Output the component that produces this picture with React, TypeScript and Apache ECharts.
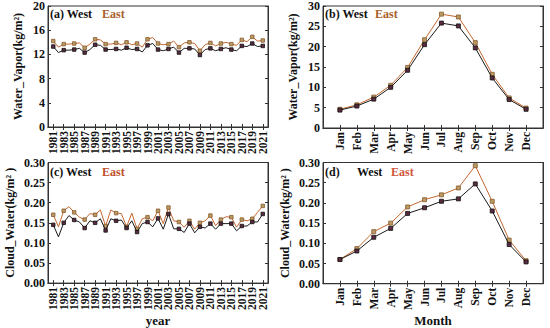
import React, { useEffect, useRef } from 'react';
import * as echarts from 'echarts';

const years = [
  '1981','1982','1983','1984','1985','1986','1987','1988','1989','1990',
  '1991','1992','1993','1994','1995','1996','1997','1998','1999','2000',
  '2001','2002','2003','2004','2005','2006','2007','2008','2009','2010',
  '2011','2012','2013','2014','2015','2016','2017','2018','2019','2020','2021'
];
const months = ['Jan','Feb','Mar','Apr','May','Jun','Jul','Aug','Sep','Oct','Nov','Dec'];

const vaporWestYear = [
  13.3,12.3,12.7,12.7,12.8,13.0,12.3,12.8,13.6,13.5,
  12.8,12.8,12.9,12.7,13.1,12.8,12.9,12.4,13.5,13.8,
  12.8,12.6,12.9,13.2,12.3,13.0,13.0,12.9,11.9,12.8,
  13.0,12.6,12.9,13.1,12.8,12.6,13.4,13.3,13.8,13.3,13.4
];
const vaporEastYear = [
  14.2,13.2,13.7,13.7,13.8,13.9,13.1,13.7,14.5,14.4,
  13.7,13.7,13.9,13.6,14.0,13.6,13.8,13.2,14.5,14.8,
  13.8,13.6,13.7,14.2,13.2,13.9,14.0,13.8,12.6,13.6,
  13.9,13.4,13.8,14.0,13.7,13.5,14.4,14.1,14.9,14.2,14.3
];
const vaporWestMonth = [4.4,5.4,7.1,10.0,14.2,20.5,25.8,25.1,19.7,12.3,7.0,4.6];
const vaporEastMonth = [4.6,5.7,7.6,10.5,14.9,21.7,28.0,27.3,21.0,13.2,7.4,4.9];

const cloudWestYear = [
  0.145,0.115,0.150,0.168,0.157,0.152,0.137,0.155,0.150,0.160,
  0.131,0.160,0.155,0.157,0.137,0.155,0.127,0.148,0.152,0.140,
  0.161,0.134,0.172,0.135,0.135,0.126,0.148,0.125,0.140,0.137,
  0.148,0.134,0.148,0.148,0.148,0.130,0.142,0.142,0.152,0.152,0.172
];
const cloudEastYear = [
  0.170,0.140,0.180,0.190,0.176,0.164,0.158,0.173,0.170,0.182,
  0.142,0.182,0.174,0.173,0.140,0.174,0.135,0.160,0.164,0.155,
  0.180,0.148,0.188,0.155,0.152,0.139,0.155,0.134,0.150,0.155,
  0.168,0.143,0.158,0.165,0.164,0.139,0.158,0.155,0.160,0.176,0.192
];
const cloudWestMonth = [0.060,0.081,0.115,0.137,0.174,0.188,0.204,0.210,0.247,0.180,0.097,0.054];
const cloudEastMonth = [0.060,0.087,0.129,0.150,0.190,0.208,0.220,0.237,0.292,0.204,0.108,0.057];

const FONT = '"Liberation Serif", "Times New Roman", serif';
const AX = '#333';
const WEST_LINE = '#1a1a1a';
const EAST_LINE = '#c4672e';
const EAST_TEXT = '#a8612c';

export default function App() {
  const ref = useRef<HTMLDivElement>(null);
  useEffect(() => {
    const chart = echarts.init(ref.current!, null, { renderer: 'svg' });

    const yearCats = [' ', ...years, '  '];
    const monthCats = [' ', ...months, '  '];
    const lastYear = yearCats.length - 1;
    const yearTickInt = (i: number) => i % 2 === 1;
    const yearLabelInt = (i: number) => i % 2 === 1 || i === 0 || i === lastYear;
    const monthTickInt = (i: number) => i >= 1 && i <= 12;

    const grids = [
      { left: 48, top: 5.5, width: 220, height: 121.5 },
      { left: 323, top: 5.5, width: 220, height: 122.5 },
      { left: 48, top: 162.5, width: 220, height: 123 },
      { left: 323, top: 162.5, width: 220, height: 123 },
    ].map((g) => ({ ...g, show: true, borderColor: AX, borderWidth: 1, backgroundColor: 'transparent' }));

    const xAxes: any[] = [];
    const yAxes: any[] = [];
    const xDefs = [
      { cats: yearCats, tick: yearTickInt, lab: yearLabelInt, name: '' },
      { cats: monthCats, tick: monthTickInt, lab: monthTickInt, name: '' },
      { cats: yearCats, tick: yearTickInt, lab: yearLabelInt, name: 'year' },
      { cats: monthCats, tick: monthTickInt, lab: monthTickInt, name: 'Month' },
    ];
    const yDefs = [
      { min: 0, max: 20, interval: 4, name: 'Water_Vapor(kg/m²)', gap: 24, dec: 0 },
      { min: 0, max: 30, interval: 5, name: 'Water_Vapor(kg/m²)', gap: 24, dec: 0 },
      { min: 0, max: 0.3, interval: 0.05, name: 'Cloud_Water(kg/m² )', gap: 32, dec: 2 },
      { min: 0, max: 0.3, interval: 0.05, name: 'Cloud_Water(kg/m² )', gap: 32, dec: 2 },
    ];
    xDefs.forEach((d, g) => {
      xAxes.push({
        type: 'category', gridIndex: g, data: d.cats, boundaryGap: false, position: 'bottom',
        axisLine: { show: true, lineStyle: { color: AX, width: 1 } },
        axisTick: { show: true, inside: true, length: 3, interval: d.tick, lineStyle: { color: AX } },
        axisLabel: {
          rotate: 90, margin: 4, interval: d.lab, hideOverlap: false,
          fontFamily: FONT, fontWeight: 'bold', fontSize: 11.5, color: '#111',
        },
        splitLine: { show: false },
        name: d.name, nameLocation: 'middle', nameGap: 30,
        nameTextStyle: { fontFamily: FONT, fontWeight: 'bold', fontSize: 13, color: '#111' },
      });
      xAxes.push({
        type: 'category', gridIndex: g, data: d.cats, boundaryGap: false, position: 'top',
        axisLine: { show: true, lineStyle: { color: AX, width: 1 } },
        axisTick: { show: true, inside: true, length: 3, interval: d.tick, lineStyle: { color: AX } },
        axisLabel: { show: false },
        splitLine: { show: false },
      });
    });
    yDefs.forEach((d, g) => {
      yAxes.push({
        type: 'value', gridIndex: g, min: d.min, max: d.max, interval: d.interval, position: 'left',
        axisLine: { show: true, lineStyle: { color: AX, width: 1 } },
        axisTick: { show: true, inside: true, length: 3, lineStyle: { color: AX } },
        axisLabel: {
          margin: 3, fontFamily: FONT, fontWeight: 'bold', fontSize: 12, color: '#111',
          formatter: (v: number) => v.toFixed(d.dec),
        },
        splitLine: { show: false },
        name: d.name, nameLocation: 'middle', nameRotate: 90, nameGap: d.gap,
        nameTextStyle: { fontFamily: FONT, fontWeight: 'bold', fontSize: 12, color: '#111' },
      });
      yAxes.push({
        type: 'value', gridIndex: g, min: d.min, max: d.max, interval: d.interval, position: 'right',
        axisLine: { show: true, lineStyle: { color: AX, width: 1 } },
        axisTick: { show: true, inside: true, length: 3, lineStyle: { color: AX } },
        axisLabel: { show: false },
        splitLine: { show: false },
      });
    });

    const mk = (g: number, cats: string[], vals: number[], east: boolean, size: number) => ({
      type: 'line', xAxisIndex: g * 2, yAxisIndex: g * 2,
      data: vals.map((v, i) => [cats[i], v]),
      symbol: 'rect', symbolSize: size, showSymbol: true,
      lineStyle: { color: east ? EAST_LINE : WEST_LINE, width: 1 },
      itemStyle: east
        ? { color: '#b89a62', borderColor: '#8a5a2e', borderWidth: 0.8 }
        : { color: '#5a2a40', borderColor: '#111', borderWidth: 0.8 },
      z: east ? 3 : 4,
      silent: true,
    });

    const series = [
      mk(0, years, vaporEastYear, true, 3.5),
      mk(0, years, vaporWestYear, false, 3.5),
      mk(1, months, vaporEastMonth, true, 4),
      mk(1, months, vaporWestMonth, false, 4),
      mk(2, years, cloudEastYear, true, 3.5),
      mk(2, years, cloudWestYear, false, 3.5),
      mk(3, months, cloudEastMonth, true, 4),
      mk(3, months, cloudWestMonth, false, 4),
    ];

    const txt = (x: number, y: number, text: string, color: string) => ({
      type: 'text', x, y, z: 10,
      style: { text, fill: color, font: `bold 12px ${FONT}`, verticalAlign: 'middle', align: 'left' },
    });

    chart.setOption({
      animation: false,
      backgroundColor: '#ffffff',
      grid: grids,
      xAxis: xAxes,
      yAxis: yAxes,
      series,
      graphic: [
        txt(50, 14, '(a) West', '#111'),
        txt(102, 14, 'East', EAST_TEXT),
        txt(325, 14, '(b) West', '#111'),
        txt(375, 14, 'East', EAST_TEXT),
        txt(50, 172, '(c) West', '#111'),
        txt(102, 172, 'East', '#c0502c'),
        txt(325, 172, '(d)', '#111'),
        txt(357, 172, 'West', '#111'),
        txt(391, 172, 'East', '#d0553a'),
      ],
    });
    return () => chart.dispose();
  }, []);
  return <div ref={ref} style={{ position: 'fixed', left: 0, top: 0, width: 550, height: 328 }} />;
}
